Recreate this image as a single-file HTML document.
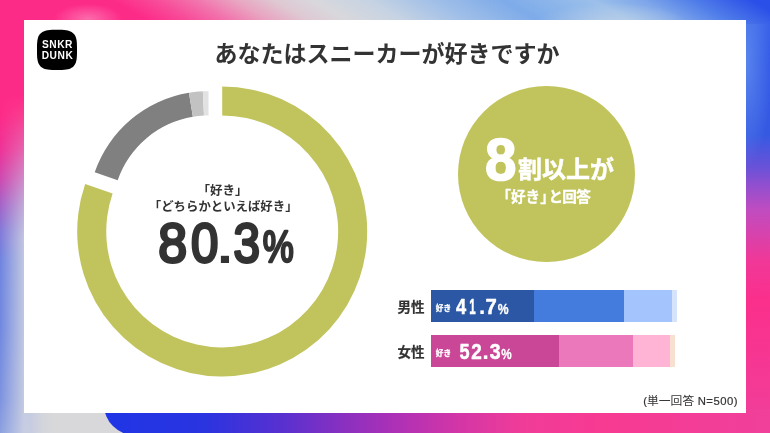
<!DOCTYPE html>
<html lang="ja">
<head>
<meta charset="utf-8">
<title>あなたはスニーカーが好きですか</title>
<style>
html,body{margin:0;padding:0;}
body{width:770px;height:433px;overflow:hidden;background:#d8d8da;font-family:"Liberation Sans","Noto Sans CJK JP",sans-serif;}
.stage{position:relative;width:770px;height:433px;overflow:hidden;background:#d8d8da;}
.strip{position:absolute;}
.left{left:0;top:0;width:30px;height:433px;background:linear-gradient(to bottom,#fd2b88 0,#fd2b88 115px,#ee3398 150px,#cc4ab2 180px,#a463c8 205px,#8478d8 230px,#6f84e0 260px,#7088e0 330px,#7d93e0 400px,#8da1e0 433px);}
.leftov{left:0;top:0;width:30px;height:433px;background:linear-gradient(to right,rgba(214,216,226,0) 0,rgba(214,216,226,0.8) 24px,rgba(214,216,226,0.8) 30px);-webkit-mask-image:linear-gradient(to bottom,transparent 95px,#000 240px);mask-image:linear-gradient(to bottom,transparent 95px,#000 240px);}
.right{left:746px;top:0;width:24px;height:433px;background:radial-gradient(ellipse 26px 105px at 0 62px,rgba(125,175,245,0.5),rgba(125,175,245,0) 100%),linear-gradient(to bottom,#3860e8 0,#3860e8 24px,#3359e6 60px,#3659e2 135px,#6a52d8 168px,#8f4fd0 184px,#c04cc0 210px,#f03898 260px,#fb2f8c 300px,#f0409a 433px);}
.top{left:0;top:0;width:770px;height:24px;background:radial-gradient(ellipse 34px 15px at 88px 19px,rgba(250,150,195,0.6),rgba(250,150,195,0) 100%),radial-gradient(ellipse 75px 20px at 612px 23px,rgba(196,212,230,0.75),rgba(196,212,230,0) 100%),linear-gradient(30deg,#fd2b88 12.1px,#fd2b88 77.1px,#f84a98 97.1px,#f272ac 117.1px,#e9a3c0 137.1px,#dfc8d2 157.1px,#d8d8dc 177.1px,#c6d3e3 204.6px,#a0bfe8 237.1px,#7eabe9 272.1px,#8ab4ea 292.1px,#9cc0ea 317.1px,#7ea6ea 342.1px,#4f7de9 367.1px,#2a4ee8 397.1px);}
.bottom{left:30px;top:409px;width:740px;height:24px;background:linear-gradient(to right,#c6cbe2 0,#d3d5dc 12px,#d8d8da 24px,#d8d8da 100%);}
.bclip{position:absolute;left:0;top:409px;width:770px;height:24px;overflow:hidden;}
.blob{position:absolute;left:103.5px;top:-50px;width:700px;height:75.8px;border-radius:0 0 0 30.4px;background:linear-gradient(to right,#2035e6 0,#2a34e0 100px,#5a30d0 180px,#8a30c0 240px,#a830b8 283px,#d035a8 348px,#f03c98 418px,#f73a92 498px,#f0409a 668px);}
.card{position:absolute;left:23.9px;top:20px;width:722.4px;height:392.8px;background:#fff;}
.bubble{position:absolute;left:458.3px;top:86.1px;width:176.4px;height:176.4px;border-radius:50%;background:#c1c45c;}
.bar{position:absolute;height:32px;}
.bar i{position:absolute;top:0;height:100%;display:block;}
svg.ov{position:absolute;left:0;top:0;will-change:transform;}
svg.ov text{font-family:"Liberation Sans","Noto Sans CJK JP",sans-serif;font-weight:bold;}
</style>
</head>
<body>
<div class="stage">
<div class="strip left"></div>
<div class="strip leftov"></div>
<div class="strip right"></div>
<div class="strip top"></div>
<div class="strip bottom"></div>
<div class="bclip"><div class="blob"></div></div>
<div class="card"></div>
<div class="bubble"></div>
<div class="bar" style="left:431px;top:289.9px;width:246px;height:32px;background:#d5e3fb">
<i style="left:0;width:240.9px;background:#a3c4fd"></i><i style="left:0;width:193.3px;background:#437cdc"></i><i style="left:0;width:102.7px;background:#2b57a4"></i>
</div>
<div class="bar" style="left:431px;top:334.9px;width:243.6px;height:32px;background:#f8e0d0">
<i style="left:0;width:238.5px;background:#ffb4d6"></i><i style="left:0;width:201.7px;background:#ea78bb"></i><i style="left:0;width:128px;background:#c94796"></i>
</div>
<svg class="ov" width="770" height="433" viewBox="0 0 770 433">
<path fill="#000" d="M77.00 49.90L76.96 54.88L76.83 57.29L76.61 59.18L76.30 60.79L75.91 62.19L75.42 63.43L74.85 64.53L74.17 65.51L73.41 66.39L72.54 67.16L71.56 67.83L70.46 68.41L69.23 68.90L67.83 69.30L66.24 69.61L64.35 69.82L61.96 69.96L57.00 70.00L52.04 69.96L49.65 69.82L47.76 69.61L46.17 69.30L44.77 68.90L43.54 68.41L42.44 67.83L41.46 67.16L40.59 66.39L39.83 65.51L39.15 64.53L38.58 63.43L38.09 62.19L37.70 60.79L37.39 59.18L37.17 57.29L37.04 54.88L37.00 49.90L37.04 44.92L37.17 42.51L37.39 40.62L37.70 39.01L38.09 37.61L38.58 36.37L39.15 35.27L39.83 34.29L40.59 33.41L41.46 32.64L42.44 31.97L43.54 31.39L44.77 30.90L46.17 30.50L47.76 30.19L49.65 29.98L52.04 29.84L57.00 29.80L61.96 29.84L64.35 29.98L66.24 30.19L67.83 30.50L69.23 30.90L70.46 31.39L71.56 31.97L72.54 32.64L73.41 33.41L74.17 34.29L74.85 35.27L75.42 36.37L75.91 37.61L76.30 39.01L76.61 40.62L76.83 42.51L76.96 44.92Z"/>
<path fill="#c1c45c" d="M222.20 86.45A145.0 145.0 0 1 1 85.17 184.05L112.62 193.55A115.95 115.95 0 1 0 222.20 115.50Z"/>
<path fill="#808080" d="M94.71 172.24A120.4 120.4 0 0 1 188.94 92.80L192.89 116.78A96.1 96.1 0 0 0 117.68 180.19Z"/>
<path fill="#c2c2c2" d="M188.94 92.80A120.4 120.4 0 0 1 202.83 91.33L203.97 115.61A96.1 96.1 0 0 0 192.89 116.78Z"/>
<path fill="#e2e2e2" d="M202.83 91.33A120.4 120.4 0 0 1 208.50 91.20L208.50 115.50A96.1 96.1 0 0 0 203.97 115.61Z"/>
<text x="214.5" y="62" font-size="23" textLength="345" fill="#333333">あなたはスニーカーが好きですか</text>
<text x="222.6" y="195.4" font-size="12.5" text-anchor="middle" fill="#333333">「好き」</text>
<text x="223.2" y="210.5" font-size="12.4" text-anchor="middle" fill="#333333">「どちらかといえば好き」</text>
<text x="518" y="177.5" font-size="24" fill="#fff" stroke="#fff" stroke-width="0.5" stroke-linejoin="round">割以上が</text>
<text x="496.5 511 525.6 540.2 548.5 562.3 576.3" y="202.3" font-size="14.6" fill="#fff" stroke="#fff" stroke-width="0.3" stroke-linejoin="round">「好き」と回答</text>
<text x="397.5" y="312" font-size="13.5" fill="#333333" stroke="#333333" stroke-width="0.2" stroke-linejoin="round">男性</text>
<text x="397.5" y="357" font-size="13.5" fill="#333333" stroke="#333333" stroke-width="0.2" stroke-linejoin="round">女性</text>
<text x="435.8" y="310.6" font-size="7.6" fill="#fff" stroke="#fff" stroke-width="0.35" stroke-linejoin="round">好き</text>
<text x="435.8" y="355.6" font-size="7.6" fill="#fff" stroke="#fff" stroke-width="0.35" stroke-linejoin="round">好き</text>
<text x="647" y="404.7" font-size="11.8" fill="#333333" style="font-weight:normal">単一回答</text>
<g class="lat">
<text x="643.15" y="404.7" font-size="11.3" fill="#333" style="font-weight:normal" stroke="#333" stroke-width="0.2">(</text>
<text x="697.65" y="404.7" font-size="11.3" letter-spacing="0.5" fill="#333" style="font-weight:normal" stroke="#333" stroke-width="0.2">N=500)</text>
<text x="57.5" y="48.1" text-anchor="middle" font-size="10.2" letter-spacing="0.55" fill="#fff">SNKR</text>
<text x="57.5" y="59.0" text-anchor="middle" font-size="10.2" letter-spacing="0.55" fill="#fff">DUNK</text>
<text transform="translate(158.37 261.84) scale(0.9258 1)" font-size="56.07" fill="#333333" style="font-weight:normal" stroke="#333333" stroke-width="3.0" stroke-linejoin="round">8</text>
<text transform="translate(190.98 261.84) scale(0.8768 1)" font-size="56.07" fill="#333333" style="font-weight:normal" stroke="#333333" stroke-width="3.0" stroke-linejoin="round">0</text>
<text transform="translate(217.09 263.20) scale(1.1725 1)" font-size="48.99" fill="#333333">.</text>
<text transform="translate(233.39 261.84) scale(0.8503 1)" font-size="56.07" fill="#333333" style="font-weight:normal" stroke="#333333" stroke-width="3.0" stroke-linejoin="round">3</text>
<text transform="translate(262.85 262.24) scale(0.7970 1)" font-size="43.71" fill="#333333" style="font-weight:normal" stroke="#333333" stroke-width="2.6" stroke-linejoin="round">%</text>
<text transform="translate(484.89 179.60) scale(0.9428 1)" font-size="60.03" fill="#fff" stroke="#fff" stroke-width="1.6" stroke-linejoin="round">8</text>
<text transform="translate(455.98 313.95) scale(0.8499 1)" font-size="21.51" fill="#fff" stroke="#fff" stroke-width="0.5" stroke-linejoin="round">4</text>
<text transform="translate(469.22 313.95) scale(0.5398 1)" font-size="21.51" fill="#fff" stroke="#fff" stroke-width="0.5" stroke-linejoin="round">1</text>
<text transform="translate(478.76 314.30) scale(1.0265 1)" font-size="23.49" fill="#fff">.</text>
<text transform="translate(485.38 313.95) scale(0.9416 1)" font-size="21.51" fill="#fff" stroke="#fff" stroke-width="0.5" stroke-linejoin="round">7</text>
<text transform="translate(459.49 358.93) scale(0.8316 1)" font-size="21.78" fill="#fff" stroke="#fff" stroke-width="0.5" stroke-linejoin="round">5</text>
<text transform="translate(471.19 359.15) scale(0.8688 1)" font-size="21.78" fill="#fff" stroke="#fff" stroke-width="0.5" stroke-linejoin="round">2</text>
<text transform="translate(482.16 359.30) scale(1.0265 1)" font-size="23.49" fill="#fff">.</text>
<text transform="translate(489.80 358.91) scale(0.9104 1)" font-size="21.44" fill="#fff" stroke="#fff" stroke-width="0.5" stroke-linejoin="round">3</text>
<text transform="translate(497.85 314.14) scale(0.8744 1)" font-size="13.92" fill="#fff" stroke="#fff" stroke-width="0.3" stroke-linejoin="round">%</text>
<text transform="translate(501.36 359.14) scale(0.8401 1)" font-size="13.92" fill="#fff" stroke="#fff" stroke-width="0.3" stroke-linejoin="round">%</text>
</g>
</svg>
</div>
</body>
</html>
